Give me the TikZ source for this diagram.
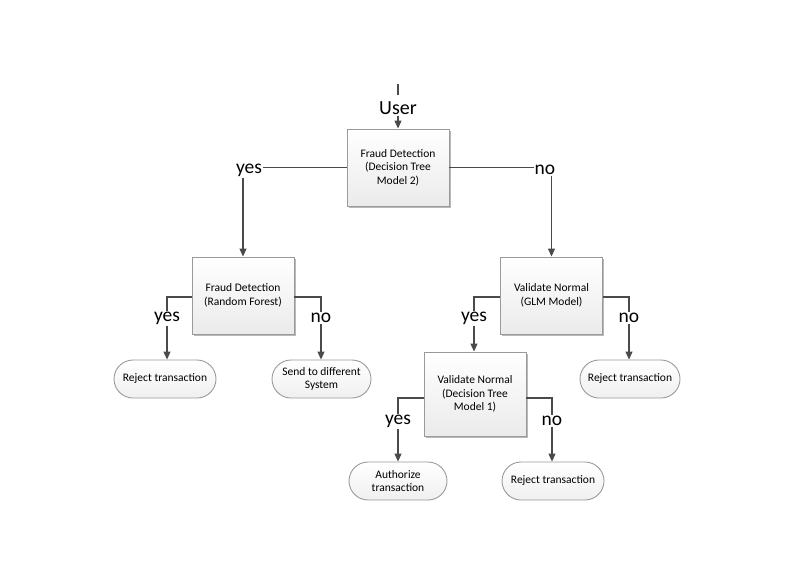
\documentclass[tikz,border=0pt]{standalone}
\usepackage{fontspec}
\setmainfont{Carlito}
\usetikzlibrary{arrows.meta,shapes.misc,shadows}
\definecolor{linec}{HTML}{4A4A4A}
\definecolor{bordc}{HTML}{9A9A9A}
\tikzset{
  proc/.style={draw=bordc, line width=0.9pt, top color=white, bottom color=gray!16,
    minimum width=102pt, minimum height=77pt, align=center, inner sep=2pt,
    font=\fontsize{11.5}{13.5}\selectfont,
    drop shadow={shadow xshift=1.6pt, shadow yshift=-1.6pt, fill=gray!55, opacity=1}},
  term/.style={rounded rectangle, draw=bordc, line width=0.9pt, top color=white, bottom color=gray!12,
    minimum width=104pt, minimum height=38pt, align=center, inner sep=2pt,
    font=\fontsize{11.5}{13.5}\selectfont},
  lbl/.style={inner sep=1pt, font=\fontsize{19.5}{21}\selectfont},
  conn/.style={draw=linec, line width=1.1pt},
  arr/.style={conn, -{Triangle[length=8pt,width=7pt]}}
}
\begin{document}
\begin{tikzpicture}[x=1pt,y=-1pt]
\useasboundingbox (0,0) rectangle (794,565);
% process boxes
\node[proc] (root) at (398,167.5) {Fraud Detection\\(Decision Tree\\Model 2)};
\node[proc] (rf) at (243,295.5) {Fraud Detection\\(Random Forest)};
\node[proc] (glm) at (551.5,295.5) {Validate Normal\\(GLM Model)};
\node[proc, minimum height=84pt] (dt1) at (475,394) {Validate Normal\\(Decision Tree\\Model 1)};
% terminals
\node[term, minimum width=106pt] (t1) at (165,379) {Reject transaction};
\node[term, minimum width=103pt] (t2) at (321.5,379) {Send to different\\System};
\node[term] (t3) at (630,379) {Reject transaction};
\node[term, minimum width=102pt] (t4) at (398,481) {Authorize\\transaction};
\node[term, minimum width=106pt] (t5) at (553,481) {Reject transaction};
% user
\coordinate (start) at (398,84);
\node[inner sep=1pt, font=\fontsize{20}{22}\selectfont] (user) at (398,108) {User};
\draw[conn] (start) -- (398,95);
\draw[arr] (user.south) -- (root.north);
% top level labels
\node[lbl] (yesA) at (249,170) {yes};
\node[lbl] (noA) at (545,170) {no};
\draw[conn] (root.west) -- (root.west -| yesA.east);
\draw[arr] (yesA.south -| rf.north) -- (rf.north);
\draw[conn] (root.east) -- (root.east -| noA.west);
\draw[arr] (noA.south -| glm.north) -- (glm.north);
% second level labels
\node[lbl] (yesB) at (167,318) {yes};
\node[lbl] (noB) at (321,318) {no};
\node[lbl] (yesC) at (474,318) {yes};
\node[lbl] (noC) at (629,318) {no};
\draw[conn] ([yshift=-1.5pt]rf.west) -- ([yshift=-1.5pt]rf.west -| yesB) -- (yesB.north);
\draw[arr] (yesB.south) -- (yesB.south |- t1.north);
\draw[conn] ([yshift=-1.5pt]rf.east) -- ([yshift=-1.5pt]rf.east -| noB) -- (noB.north);
\draw[arr] (noB.south) -- (noB.south |- t2.north);
\draw[conn] ([yshift=-1.5pt]glm.west) -- ([yshift=-1.5pt]glm.west -| yesC) -- (yesC.north);
\draw[arr] (yesC.south) -- (yesC.south |- dt1.north);
\draw[conn] ([yshift=-1.5pt]glm.east) -- ([yshift=-1.5pt]glm.east -| noC) -- (noC.north);
\draw[arr] (noC.south) -- (noC.south |- t3.north);
% third level labels
\node[lbl] (yesD) at (398,421) {yes};
\node[lbl] (noD) at (552,421) {no};
\draw[conn] ([yshift=-4pt]dt1.west) -- ([yshift=-4pt]dt1.west -| yesD) -- (yesD.north);
\draw[arr] (yesD.south) -- (yesD.south |- t4.north);
\draw[conn] ([yshift=-4pt]dt1.east) -- ([yshift=-4pt]dt1.east -| noD) -- (noD.north);
\draw[arr] (noD.south) -- (noD.south |- t5.north);
\end{tikzpicture}
\end{document}
